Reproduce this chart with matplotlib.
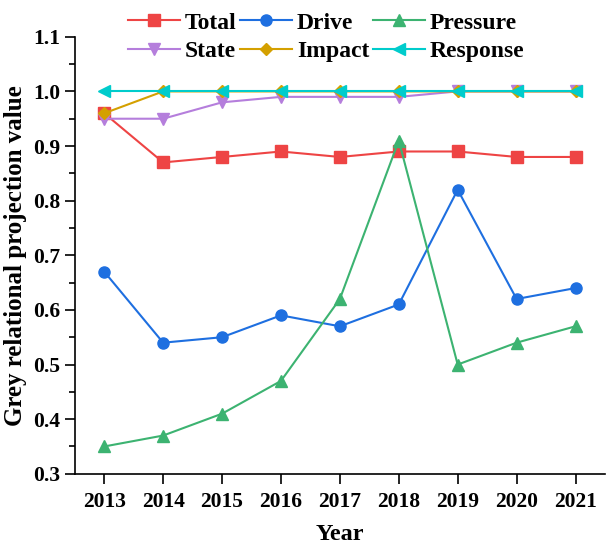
import matplotlib.pyplot as plt

years = [2013, 2014, 2015, 2016, 2017, 2018, 2019, 2020, 2021]
total = [0.96, 0.87, 0.88, 0.89, 0.88, 0.89, 0.89, 0.88, 0.88]
drive = [0.67, 0.54, 0.55, 0.59, 0.57, 0.61, 0.82, 0.62, 0.64]
pressure = [0.35, 0.37, 0.41, 0.47, 0.62, 0.91, 0.50, 0.54, 0.57]
state = [0.95, 0.95, 0.98, 0.99, 0.99, 0.99, 1.00, 1.00, 1.00]
impact = [0.96, 1.00, 1.00, 1.00, 1.00, 1.00, 1.00, 1.00, 1.00]
response = [1.00, 1.00, 1.00, 1.00, 1.00, 1.00, 1.00, 1.00, 1.00]

plt.rcParams['font.family'] = ['Liberation Serif', 'DejaVu Serif']
plt.rcParams['font.weight'] = 'bold'

fig = plt.figure(figsize=(6.08, 5.49), dpi=100)
ax = fig.add_axes([0.123, 0.137, 0.872, 0.796])

series = [
    ("Total", total, "#EE4444", "s"),
    ("Drive", drive, "#1E6FE0", "o"),
    ("Pressure", pressure, "#3CB371", "^"),
    ("State", state, "#B57EDC", "v"),
    ("Impact", impact, "#D4A000", "D"),
    ("Response", response, "#00CCCC", "<"),
]
handles = {}
for name, vals, col, mk in series:
    ms = 6.5 if mk == "D" else 8
    h, = ax.plot(years, vals, color=col, marker=mk, markersize=ms, lw=1.5, label=name)
    handles[name] = h

order = ["Total", "State", "Drive", "Impact", "Pressure", "Response"]
fig.legend([handles[n] for n in order], order, ncol=3, frameon=False,
           loc="upper left", bbox_to_anchor=(0.184, 1.008),
           prop={'size': 17, 'weight': 'bold'}, handlelength=2.2,
           columnspacing=0.15, handletextpad=0.2, labelspacing=0.3,
           borderpad=0.2)

ax.set_xlim(2012.5, 2021.5)
ax.set_ylim(0.3, 1.1)
ax.set_xticks(years)
ax.set_yticks([0.3, 0.4, 0.5, 0.6, 0.7, 0.8, 0.9, 1.0, 1.1])
ax.set_yticks([0.35, 0.45, 0.55, 0.65, 0.75, 0.85, 0.95, 1.05], minor=True)
ax.tick_params(axis='both', which='major', labelsize=15.5, width=1.2, length=7, direction='out')
ax.tick_params(axis='x', which='major', pad=6)
ax.tick_params(axis='y', which='minor', width=1.2, length=4, direction='out')
for lab in ax.get_xticklabels() + ax.get_yticklabels():
    lab.set_fontweight('bold')
ax.spines['top'].set_visible(False)
ax.spines['right'].set_visible(False)
ax.spines['left'].set_linewidth(1.2)
ax.spines['bottom'].set_linewidth(1.2)
ax.set_xlabel("Year", fontsize=17.5, fontweight='bold', labelpad=9)
ax.set_ylabel("Grey relational projection value", fontsize=18, fontweight='bold', labelpad=4)

fig.savefig("out.png", dpi=100)
